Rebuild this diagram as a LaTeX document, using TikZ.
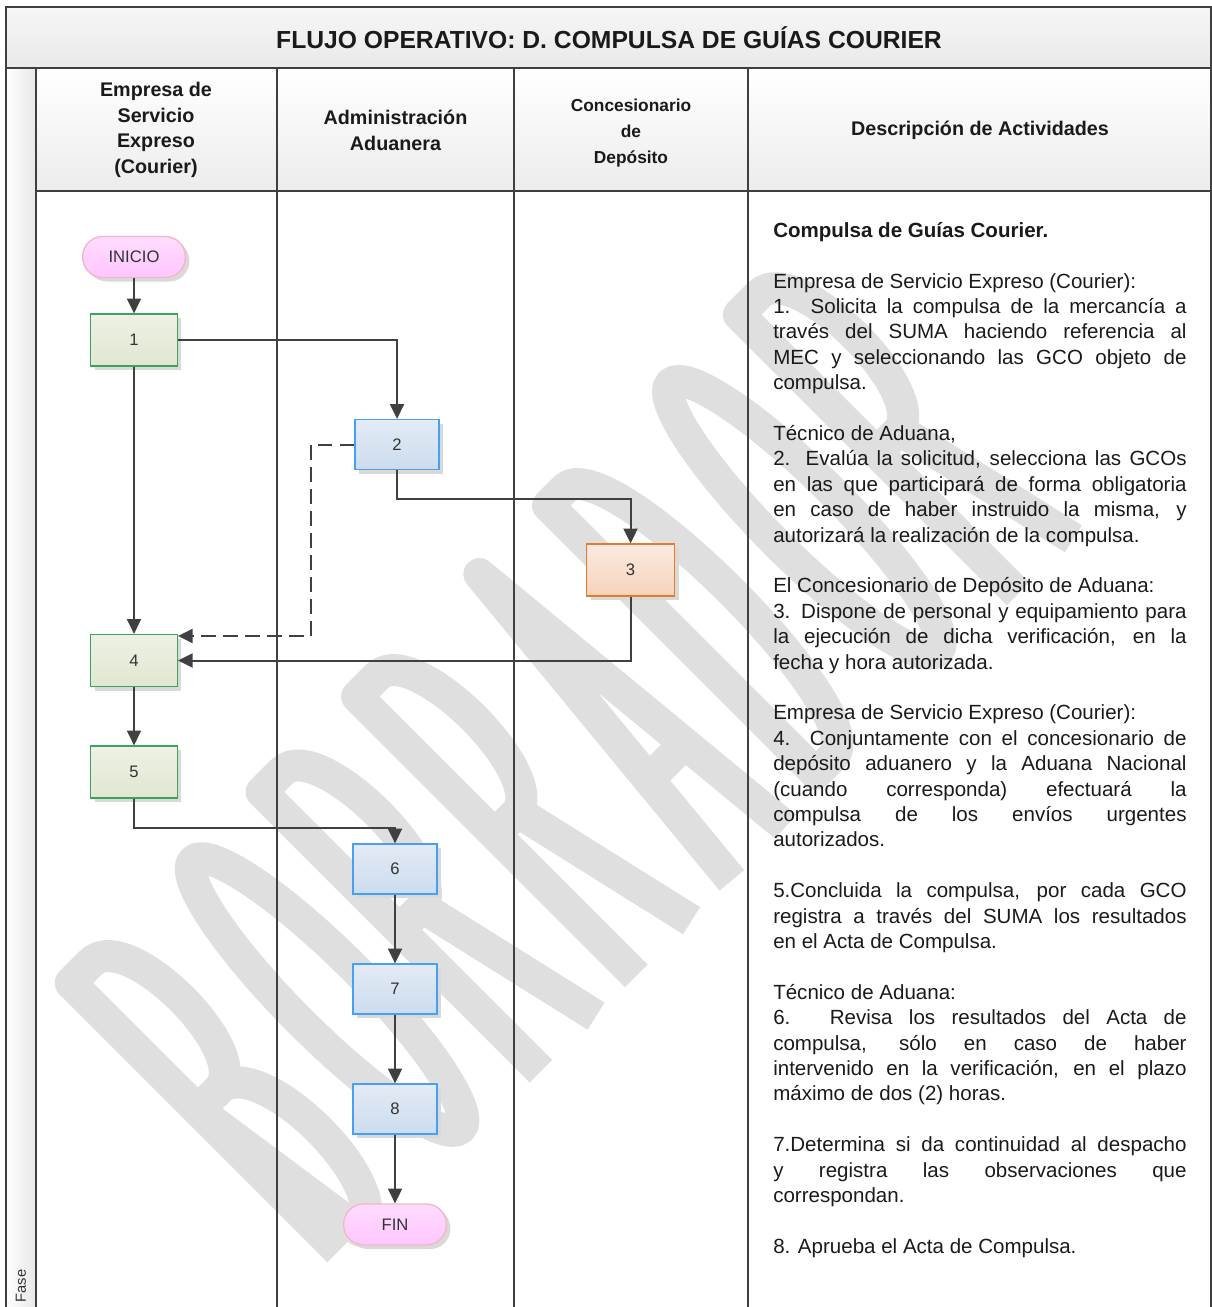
\documentclass[tikz,border=0pt]{standalone}
\usepackage{fontspec}
\setmainfont{Liberation Sans}
\usetikzlibrary{arrows.meta,shadows,calc}
\definecolor{ink}{HTML}{404040}
\definecolor{framec}{HTML}{3F3F3F}
\definecolor{txt}{HTML}{333333}
\definecolor{dtxt}{HTML}{1A1A1A}
\definecolor{wm}{HTML}{DFDFDF}
\definecolor{greenb}{HTML}{3AA35C}
\definecolor{greent}{HTML}{EEF1E5}
\definecolor{greenbot}{HTML}{E0E7D1}
\definecolor{blueb}{HTML}{47A0F5}
\definecolor{bluet}{HTML}{E3EBF5}
\definecolor{bluebot}{HTML}{CCDCEE}
\definecolor{orangeb}{HTML}{E8792B}
\definecolor{oranget}{HTML}{FBEAE0}
\definecolor{orangebot}{HTML}{F6D3BA}
\definecolor{pinkb}{HTML}{F5B5C5}
\definecolor{pinkt}{HTML}{FFDCFF}
\definecolor{pinkbot}{HTML}{FFC6FF}
\definecolor{shadowc}{HTML}{D9D9D9}
\definecolor{ttop}{HTML}{F6F6F6}
\definecolor{tbot}{HTML}{E9E9E9}
\definecolor{hbot}{HTML}{ECECEC}
\definecolor{fbot}{HTML}{E8E8E8}
\newcommand{\jl}[1]{\makebox[310pt][s]{#1}}
\tikzset{
  frame/.style={draw=framec, line width=1.5pt},
  conn/.style={draw=ink, line width=1.5pt},
  arr/.style={conn, -{Triangle[length=11pt,width=10.5pt]}},
  dasharr/.style={arr, dash pattern=on 11pt off 5.5pt},
  box/.style={rectangle, line width=1pt, minimum width=63.75pt, minimum height=38pt,
    font=\fontsize{12.5pt}{14pt}\selectfont, text=txt, inner sep=0pt,
    drop shadow={shadow xshift=3pt, shadow yshift=-3pt, fill=shadowc, opacity=1}},
  gbox/.style={box, draw=greenb, top color=greent, bottom color=greenbot, minimum width=65pt, minimum height=39pt},
  bbox/.style={box, draw=blueb, top color=bluet, bottom color=bluebot, minimum width=63pt, minimum height=37.5pt},
  obox/.style={box, draw=orangeb, top color=oranget, bottom color=orangebot, minimum width=66pt, minimum height=39pt},
  term/.style={rectangle, rounded corners=15pt, line width=1pt, draw=pinkb, top color=pinkt, bottom color=pinkbot,
    minimum width=77pt, minimum height=30.75pt, inner sep=0pt, font=\fontsize{12.5pt}{14pt}\selectfont, text=txt,
    drop shadow={shadow xshift=3pt, shadow yshift=-3pt, fill=shadowc, opacity=1}},
  hdr/.style={align=center, text=dtxt, font=\fontsize{14.8pt}{19.1pt}\selectfont\bfseries, inner sep=0pt},
  wmstroke/.style={draw=wm, line width=24pt, line join=round, line cap=butt}
}
\begin{document}
\begin{tikzpicture}[x=0.75pt,y=-0.75pt]
\useasboundingbox (0,0) rectangle (1212,1307);
% backgrounds
\shade[top color=ttop, bottom color=tbot] (6,7) rectangle (1211,68);
\shade[top color=white, bottom color=hbot] (36,68) rectangle (1211,191);
\shade[left color=white, right color=fbot] (6,68) rectangle (36,1307);
% watermark BORRADOR
\begin{scope}[shift={(806.1,806.1)}, x={(0.53033pt,0.53033pt)}, y={(-0.53033pt,0.53033pt)}, wmstroke]
  % B
  \begin{scope}[shift={(-661,0)}]
    \draw (16,16) -- (16,395) -- (45,395) .. controls (96,395) and (96,215) .. (45,215) -- (16,215);
    \draw (16,215) -- (45,215) .. controls (102,215) and (102,16) .. (45,16) -- cycle;
  \end{scope}
  % O
  \begin{scope}[shift={(-526,0)}]
    \draw (54,205.5) ellipse [x radius=38, y radius=189];
  \end{scope}
  % R
  \begin{scope}[shift={(-391,0)}]
    \draw (16,0) -- (16,395) -- (45,395) .. controls (96,395) and (96,200) .. (45,200) -- (16,200);
    \draw (48,200) -- (94,0);
  \end{scope}
  % R
  \begin{scope}[shift={(-256,0)}]
    \draw (16,0) -- (16,395) -- (45,395) .. controls (96,395) and (96,200) .. (45,200) -- (16,200);
    \draw (48,200) -- (94,0);
  \end{scope}
  % A
  \begin{scope}[shift={(-121,0)}]
    \draw (16,0) -- (54,395) -- (92,0);
    \draw (32,130) -- (76,130);
  \end{scope}
  % D
  \begin{scope}[shift={(14,0)}]
    \draw (16,16) -- (16,395) -- (40,395) .. controls (100,395) and (100,16) .. (40,16) -- cycle;
  \end{scope}
  % O
  \begin{scope}[shift={(149,0)}]
    \draw (54,205.5) ellipse [x radius=38, y radius=189];
  \end{scope}
  % R
  \begin{scope}[shift={(284,0)}]
    \draw (16,0) -- (16,395) -- (45,395) .. controls (96,395) and (96,200) .. (45,200) -- (16,200);
    \draw (48,200) -- (94,0);
  \end{scope}
\end{scope}
% frame and lanes
\draw[frame] (6,1307) -- (6,7) -- (1211,7) -- (1211,1307);
\draw[frame] (6,68) -- (1211,68);
\draw[frame] (36,191) -- (1211,191);
\draw[frame] (36,68) -- (36,1307);
\draw[frame] (277,68) -- (277,1307);
\draw[frame] (514,68) -- (514,1307);
\draw[frame] (748,68) -- (748,1307);
% title and headers
\node[text=dtxt, font=\fontsize{18.5pt}{22pt}\selectfont\bfseries, inner sep=0pt] (title) at (609,38) {FLUJO OPERATIVO: D. COMPULSA DE GUÍAS COURIER};
\node[hdr] (h1) at (156,130) {Empresa de\\Servicio\\Expreso\\(Courier)};
\node[hdr] (h2) at (395.5,130.5) {Administración\\Aduanera};
\node[hdr, font=\fontsize{13pt}{19.5pt}\selectfont\bfseries] (h3) at (631,133) {Concesionario\\de\\Depósito};
\node[hdr] (h4) at (980,130) {Descripción de Actividades};
\node[rotate=90, text=txt, font=\fontsize{11pt}{13pt}\selectfont, inner sep=0pt] (fase) at (21,1286) {Fase};
% flow nodes
\node[term] (ini) at (134,257) {INICIO};
\node[gbox] (n1) at (134,340) {1};
\node[bbox] (n2) at (397,444.5) {2};
\node[obox] (n3) at (630.5,570) {3};
\node[gbox] (n4) at (134,660.5) {4};
\node[gbox] (n5) at (134,772) {5};
\node[bbox] (n6) at (395,869) {6};
\node[bbox] (n7) at (395,989) {7};
\node[bbox] (n8) at (395,1109) {8};
\node[term] (fin) at (395,1224.5) {FIN};
\coordinate (d2) at (311,636);
\coordinate (c2) at (500,498.5);
\coordinate (c5) at (250,828);
% connectors
\draw[arr] (ini) -- (n1);
\draw[arr] (n1.east) -| (n2.north);
\draw[arr] (n1) -- (n4);
\draw[dasharr] (n2.west) -| (d2) -- (d2 -| n4.east);
\draw[arr] (n2.south) |- (c2) -| (n3.north);
\draw[arr] (n3.south) |- (n4.east);
\draw[arr] (n4) -- (n5);
\draw[arr] (n5.south) |- (c5) -| (n6.north);
\draw[arr] (n6) -- (n7);
\draw[arr] (n7) -- (n8);
\draw[arr] (n8) -- (fin);
% description
\node[anchor=north west, inner sep=0pt, align=left, text=dtxt, font=\fontsize{15.4pt}{19.05pt}\selectfont] (desc) at (773,217) {%
\rule{0pt}{15pt}\textbf{Compulsa de Guías Courier.}\\[19.05pt]
Empresa de Servicio Expreso (Courier):\\
\jl{1. Solicita la compulsa de la mercancía a}\\
\jl{través del SUMA haciendo referencia al}\\
\jl{MEC y seleccionando las GCO objeto de}\\
compulsa.\\[19.05pt]
Técnico de Aduana,\\
\jl{2. Evalúa la solicitud, selecciona las GCOs}\\
\jl{en las que participará de forma obligatoria}\\
\jl{en caso de haber instruido la misma, y}\\
autorizará la realización de la compulsa.\\[19.05pt]
El Concesionario de Depósito de Aduana:\\
\jl{3. Dispone de personal y equipamiento para}\\
\jl{la ejecución de dicha verificación, en la}\\
fecha y hora autorizada.\\[19.05pt]
Empresa de Servicio Expreso (Courier):\\
\jl{4. Conjuntamente con el concesionario de}\\
\jl{depósito aduanero y la Aduana Nacional}\\
\jl{(cuando corresponda) efectuará la}\\
\jl{compulsa de los envíos urgentes}\\
autorizados.\\[19.05pt]
\jl{5.Concluida la compulsa, por cada GCO}\\
\jl{registra a través del SUMA los resultados}\\
en el Acta de Compulsa.\\[19.05pt]
Técnico de Aduana:\\
\jl{6. Revisa los resultados del Acta de}\\
\jl{compulsa, sólo en caso de haber}\\
\jl{intervenido en la verificación, en el plazo}\\
máximo de dos (2) horas.\\[19.05pt]
\jl{7.Determina si da continuidad al despacho}\\
\jl{y registra las observaciones que}\\
correspondan.\\[19.05pt]
8. Aprueba el Acta de Compulsa.};
\end{tikzpicture}
\end{document}
